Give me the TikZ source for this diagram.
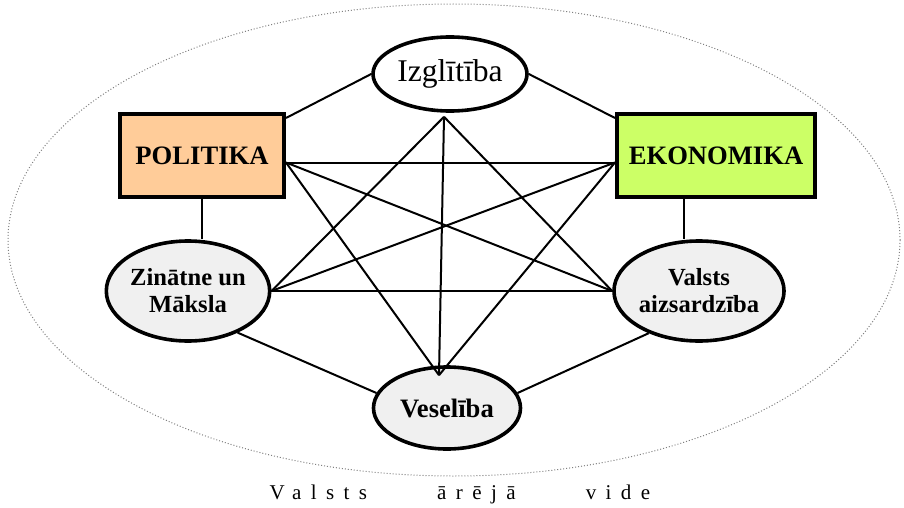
\documentclass[tikz,border=0pt]{standalone}
\usepackage{fontspec}
\setmainfont{Liberation Serif}
\newfontfamily\spaced[LetterSpace=45]{Liberation Serif}
\usepackage{tikz}
\usetikzlibrary{shapes}
\usetikzlibrary{calc}
\definecolor{color1}{HTML}{FFCC99}
\definecolor{color2}{HTML}{CCFF66}
\definecolor{color3}{HTML}{F0F0F0}

\begin{document}
\begin{tikzpicture}[x=0.5pt,y=-0.5pt,thick,
  field/.style={draw,line width=2pt,rectangle,minimum height=41.5pt,inner sep=0pt,font=\fontsize{13.3}{15}\selectfont\bfseries},
  area/.style={draw,line width=1.8pt,ellipse,fill=color3,inner sep=0pt,align=center,font=\fontsize{12.3}{13.5}\selectfont\bfseries},
  link/.style={line width=1pt}]

  \useasboundingbox (0,0) rectangle (904,508);
  % outer environment
  \draw [gray,densely dotted,line width=0.5pt] (454,240) ellipse (446 and 236);

  \node [field,fill=color1,minimum width=82pt] (pol) at (202,155.5) {POLITIKA};
  \node [field,fill=color2,minimum width=99pt] (ekon) at (716,155.5) {EKONOMIKA};
  \node [draw,ellipse,line width=1.8pt,fill=white,minimum width=77pt,minimum height=37pt,inner sep=0pt,font=\fontsize{15.8}{17}\selectfont] (izgl) at (450,74) {Izglītība};
  \node [area,minimum width=80.5pt,minimum height=50pt] (zin) at (188,291) {Zinātne un\\Māksla};
  \node [area,minimum width=81.5pt,minimum height=50pt] (val) at (699,291) {Valsts\\aizsardzība};
  \node [area,minimum width=73.5pt,minimum height=41pt,font=\fontsize{13.3}{15}\selectfont\bfseries] (ves) at (447,408) {Veselība};

  \node [font=\fontsize{10.5}{12}\selectfont\spaced] (vide) at (460,494) {Valsts\hspace{35pt}ārējā\hspace{35pt}vide};

  % meeting points of the links
  \coordinate (pe) at ([yshift=-3.5pt]pol.east);
  \coordinate (ew) at ([yshift=-3.5pt]ekon.west);
  \coordinate (zr) at (zin.east);
  \coordinate (vw) at (val.west);
  \coordinate (it) at ([xshift=-3pt,yshift=-2pt]izgl.south);
  \coordinate (vt) at ([xshift=-4pt,yshift=-5pt]ves.north);

  \draw [link] (izgl.west) -- ([yshift=-3pt]pol.north east);
  \draw [link] (izgl.east) -- ([yshift=-3pt]ekon.north west);
  \draw [link] (pol.south) -- (pol.south |- zin.north);
  \draw [link] ([xshift=-16pt]ekon.south) -- ([xshift=-16pt]ekon.south |- val.north);
  \draw [link] (zin.-40) -- (ves.168);
  \draw [link] (val.220) -- (ves.12);
  \foreach \a/\b in {pe/ew,zr/vw,pe/vw,pe/vt,zr/ew,ew/vt,it/zr,it/vw,it/vt}
    \draw [link] (\a) -- (\b);

\end{tikzpicture}
\end{document}
